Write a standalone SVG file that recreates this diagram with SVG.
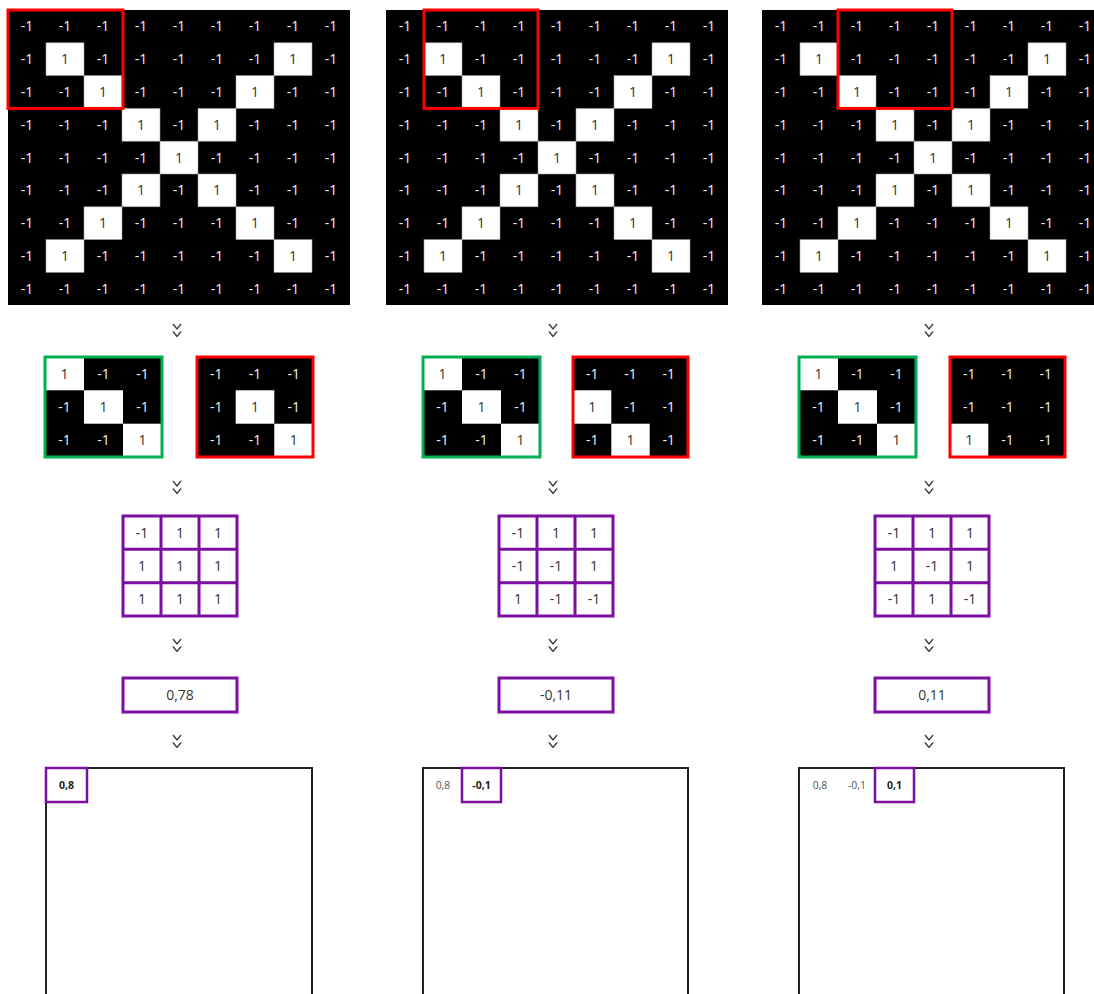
<svg xmlns="http://www.w3.org/2000/svg" xmlns:xlink="http://www.w3.org/1999/xlink" width="1094" height="994" viewBox="0 0 1094 994">
<style>
text{font-family:"Open Sans","DejaVu Sans",sans-serif;font-size:14px;text-anchor:middle}
.w{fill:#f0f0f0}
.d{fill:#333}
.cell1{fill:#fff;stroke:#999;stroke-width:0.6}
.red{fill:none;stroke:#ff0000;stroke-width:3}
.green{fill:none;stroke:#00b050;stroke-width:3}
.pur{fill:none;stroke:#7b0fa0;stroke-width:3}
.pur2{fill:none;stroke:#7b0fa0;stroke-width:2.5}
.frame{fill:none;stroke:#222;stroke-width:2}
.chev{fill:none;stroke:#3a3a4a;stroke-width:1.4}
.sm{font-size:10.5px;fill:#555}
.smb{font-size:10.5px;fill:#222;font-weight:bold}
</style>
<defs>
<g id="bigGrid">
<rect x="0" y="0" width="342" height="295" fill="#000"/>
<rect class="cell1" x="38" y="32.8" width="38" height="32.8"/>
<rect class="cell1" x="266" y="32.8" width="38" height="32.8"/>
<rect class="cell1" x="76" y="65.6" width="38" height="32.8"/>
<rect class="cell1" x="228" y="65.6" width="38" height="32.8"/>
<rect class="cell1" x="114" y="98.4" width="38" height="32.8"/>
<rect class="cell1" x="190" y="98.4" width="38" height="32.8"/>
<rect class="cell1" x="152" y="131.2" width="38" height="32.8"/>
<rect class="cell1" x="114" y="164" width="38" height="32.8"/>
<rect class="cell1" x="190" y="164" width="38" height="32.8"/>
<rect class="cell1" x="76" y="196.8" width="38" height="32.8"/>
<rect class="cell1" x="228" y="196.8" width="38" height="32.8"/>
<rect class="cell1" x="38" y="229.6" width="38" height="32.8"/>
<rect class="cell1" x="266" y="229.6" width="38" height="32.8"/>
<text class="w" x="19" y="21.4">-1</text><text class="w" x="57" y="21.4">-1</text><text class="w" x="95" y="21.4">-1</text><text class="w" x="133" y="21.4">-1</text><text class="w" x="171" y="21.4">-1</text><text class="w" x="209" y="21.4">-1</text><text class="w" x="247" y="21.4">-1</text><text class="w" x="285" y="21.4">-1</text><text class="w" x="323" y="21.4">-1</text>
<text class="w" x="19" y="54.2">-1</text><text class="d" x="57" y="54.2">1</text><text class="w" x="95" y="54.2">-1</text><text class="w" x="133" y="54.2">-1</text><text class="w" x="171" y="54.2">-1</text><text class="w" x="209" y="54.2">-1</text><text class="w" x="247" y="54.2">-1</text><text class="d" x="285" y="54.2">1</text><text class="w" x="323" y="54.2">-1</text>
<text class="w" x="19" y="87">-1</text><text class="w" x="57" y="87">-1</text><text class="d" x="95" y="87">1</text><text class="w" x="133" y="87">-1</text><text class="w" x="171" y="87">-1</text><text class="w" x="209" y="87">-1</text><text class="d" x="247" y="87">1</text><text class="w" x="285" y="87">-1</text><text class="w" x="323" y="87">-1</text>
<text class="w" x="19" y="119.8">-1</text><text class="w" x="57" y="119.8">-1</text><text class="w" x="95" y="119.8">-1</text><text class="d" x="133" y="119.8">1</text><text class="w" x="171" y="119.8">-1</text><text class="d" x="209" y="119.8">1</text><text class="w" x="247" y="119.8">-1</text><text class="w" x="285" y="119.8">-1</text><text class="w" x="323" y="119.8">-1</text>
<text class="w" x="19" y="152.6">-1</text><text class="w" x="57" y="152.6">-1</text><text class="w" x="95" y="152.6">-1</text><text class="w" x="133" y="152.6">-1</text><text class="d" x="171" y="152.6">1</text><text class="w" x="209" y="152.6">-1</text><text class="w" x="247" y="152.6">-1</text><text class="w" x="285" y="152.6">-1</text><text class="w" x="323" y="152.6">-1</text>
<text class="w" x="19" y="185.4">-1</text><text class="w" x="57" y="185.4">-1</text><text class="w" x="95" y="185.4">-1</text><text class="d" x="133" y="185.4">1</text><text class="w" x="171" y="185.4">-1</text><text class="d" x="209" y="185.4">1</text><text class="w" x="247" y="185.4">-1</text><text class="w" x="285" y="185.4">-1</text><text class="w" x="323" y="185.4">-1</text>
<text class="w" x="19" y="218.2">-1</text><text class="w" x="57" y="218.2">-1</text><text class="d" x="95" y="218.2">1</text><text class="w" x="133" y="218.2">-1</text><text class="w" x="171" y="218.2">-1</text><text class="w" x="209" y="218.2">-1</text><text class="d" x="247" y="218.2">1</text><text class="w" x="285" y="218.2">-1</text><text class="w" x="323" y="218.2">-1</text>
<text class="w" x="19" y="251">-1</text><text class="d" x="57" y="251">1</text><text class="w" x="95" y="251">-1</text><text class="w" x="133" y="251">-1</text><text class="w" x="171" y="251">-1</text><text class="w" x="209" y="251">-1</text><text class="w" x="247" y="251">-1</text><text class="d" x="285" y="251">1</text><text class="w" x="323" y="251">-1</text>
<text class="w" x="19" y="283.8">-1</text><text class="w" x="57" y="283.8">-1</text><text class="w" x="95" y="283.8">-1</text><text class="w" x="133" y="283.8">-1</text><text class="w" x="171" y="283.8">-1</text><text class="w" x="209" y="283.8">-1</text><text class="w" x="247" y="283.8">-1</text><text class="w" x="285" y="283.8">-1</text><text class="w" x="323" y="283.8">-1</text>
</g>
<g id="greenFilter">
<rect x="0" y="0" width="117" height="100" fill="#000"/>
<rect x="0" y="0" width="39" height="33.3" fill="#fff"/>
<rect x="39" y="33.3" width="39" height="33.4" fill="#fff"/>
<rect x="78" y="66.7" width="39" height="33.3" fill="#fff"/>
<text class="d" x="19.5" y="21.7">1</text><text class="w" x="58.5" y="21.7">-1</text><text class="w" x="97.5" y="21.7">-1</text>
<text class="w" x="19.5" y="55">-1</text><text class="d" x="58.5" y="55">1</text><text class="w" x="97.5" y="55">-1</text>
<text class="w" x="19.5" y="88.3">-1</text><text class="w" x="58.5" y="88.3">-1</text><text class="d" x="97.5" y="88.3">1</text>
<rect class="green" x="0" y="0" width="117" height="100"/>
</g>
<path id="chev" class="chev" d="M-4,0 L0,5 L4,0 M-4,7.5 L0,12.5 L4,7.5"/>
</defs>

<g id="connectors">
<use xlink:href="#chev" x="177" y="324"/>
<use xlink:href="#chev" x="177" y="481"/>
<use xlink:href="#chev" x="177" y="639"/>
<use xlink:href="#chev" x="177" y="735"/>
<use xlink:href="#chev" x="553" y="324"/>
<use xlink:href="#chev" x="553" y="481"/>
<use xlink:href="#chev" x="553" y="639"/>
<use xlink:href="#chev" x="553" y="735"/>
<use xlink:href="#chev" x="929" y="324"/>
<use xlink:href="#chev" x="929" y="481"/>
<use xlink:href="#chev" x="929" y="639"/>
<use xlink:href="#chev" x="929" y="735"/>
</g>

<!-- Column 1 -->
<g id="input1" transform="translate(8,10)">
<use xlink:href="#bigGrid"/>
<rect class="red" x="0" y="0" width="115" height="98.4"/>
</g>
<g id="filter1" transform="translate(45,357)"><use xlink:href="#greenFilter"/></g>
<g id="patch1" transform="translate(197,357)">
<rect x="0" y="0" width="116" height="100" fill="#000"/>
<rect x="38.7" y="33.3" width="38.6" height="33.4" fill="#fff"/>
<rect x="77.3" y="66.7" width="38.7" height="33.3" fill="#fff"/>
<text class="w" x="19.3" y="21.7">-1</text><text class="w" x="58" y="21.7">-1</text><text class="w" x="96.7" y="21.7">-1</text>
<text class="w" x="19.3" y="55">-1</text><text class="d" x="58" y="55">1</text><text class="w" x="96.7" y="55">-1</text>
<text class="w" x="19.3" y="88.3">-1</text><text class="w" x="58" y="88.3">-1</text><text class="d" x="96.7" y="88.3">1</text>
<rect class="red" x="0" y="0" width="116" height="100"/>
</g>
<g id="product1" transform="translate(123,516)">
<rect x="0" y="0" width="114" height="100" fill="#fff"/>
<path class="pur" d="M0,0 H114 V100 H0 Z M38,0 V100 M76,0 V100 M0,33.3 H114 M0,66.7 H114"/>
<text class="d" x="19" y="21.7">-1</text><text class="d" x="57" y="21.7">1</text><text class="d" x="95" y="21.7">1</text>
<text class="d" x="19" y="55">1</text><text class="d" x="57" y="55">1</text><text class="d" x="95" y="55">1</text>
<text class="d" x="19" y="88.3">1</text><text class="d" x="57" y="88.3">1</text><text class="d" x="95" y="88.3">1</text>
</g>
<g id="value1">
<rect class="pur" x="123" y="678" width="114" height="34"/>
<text class="d" x="180" y="700">0,78</text>
</g>
<g id="map1">
<rect class="frame" x="46" y="768" width="266" height="240"/>
<rect class="pur2" x="46" y="768" width="41" height="34"/>
<text class="smb" x="66.5" y="789">0,8</text>
</g>

<!-- Column 2 -->
<g id="input2" transform="translate(386,10)">
<use xlink:href="#bigGrid"/>
<rect class="red" x="38" y="0" width="114" height="98.4"/>
</g>
<g id="filter2" transform="translate(423,357)"><use xlink:href="#greenFilter"/></g>
<g id="patch2" transform="translate(573,357)">
<rect x="0" y="0" width="115" height="100" fill="#000"/>
<rect x="0" y="33.3" width="38.3" height="33.4" fill="#fff"/>
<rect x="38.3" y="66.7" width="38.4" height="33.3" fill="#fff"/>
<text class="w" x="19.2" y="21.7">-1</text><text class="w" x="57.5" y="21.7">-1</text><text class="w" x="95.8" y="21.7">-1</text>
<text class="d" x="19.2" y="55">1</text><text class="w" x="57.5" y="55">-1</text><text class="w" x="95.8" y="55">-1</text>
<text class="w" x="19.2" y="88.3">-1</text><text class="d" x="57.5" y="88.3">1</text><text class="w" x="95.8" y="88.3">-1</text>
<rect class="red" x="0" y="0" width="115" height="100"/>
</g>
<g id="product2" transform="translate(499,516)">
<rect x="0" y="0" width="114" height="100" fill="#fff"/>
<path class="pur" d="M0,0 H114 V100 H0 Z M38,0 V100 M76,0 V100 M0,33.3 H114 M0,66.7 H114"/>
<text class="d" x="19" y="21.7">-1</text><text class="d" x="57" y="21.7">1</text><text class="d" x="95" y="21.7">1</text>
<text class="d" x="19" y="55">-1</text><text class="d" x="57" y="55">-1</text><text class="d" x="95" y="55">1</text>
<text class="d" x="19" y="88.3">1</text><text class="d" x="57" y="88.3">-1</text><text class="d" x="95" y="88.3">-1</text>
</g>
<g id="value2">
<rect class="pur" x="499" y="678" width="114" height="34"/>
<text class="d" x="556" y="700">-0,11</text>
</g>
<g id="map2">
<rect class="frame" x="423" y="768" width="265" height="240"/>
<text class="sm" x="443" y="789">0,8</text>
<rect class="pur2" x="462" y="768" width="39" height="34"/>
<text class="smb" x="481.5" y="789">-0,1</text>
</g>

<!-- Column 3 -->
<g id="input3" transform="translate(762,10)">
<use xlink:href="#bigGrid"/>
<rect class="red" x="76" y="0" width="114" height="98.4"/>
</g>
<g id="filter3" transform="translate(799,357)"><use xlink:href="#greenFilter"/></g>
<g id="patch3" transform="translate(950,357)">
<rect x="0" y="0" width="115" height="100" fill="#000"/>
<rect x="0" y="66.7" width="38.3" height="33.3" fill="#fff"/>
<text class="w" x="19.2" y="21.7">-1</text><text class="w" x="57.5" y="21.7">-1</text><text class="w" x="95.8" y="21.7">-1</text>
<text class="w" x="19.2" y="55">-1</text><text class="w" x="57.5" y="55">-1</text><text class="w" x="95.8" y="55">-1</text>
<text class="d" x="19.2" y="88.3">1</text><text class="w" x="57.5" y="88.3">-1</text><text class="w" x="95.8" y="88.3">-1</text>
<rect class="red" x="0" y="0" width="115" height="100"/>
</g>
<g id="product3" transform="translate(875,516)">
<rect x="0" y="0" width="114" height="100" fill="#fff"/>
<path class="pur" d="M0,0 H114 V100 H0 Z M38,0 V100 M76,0 V100 M0,33.3 H114 M0,66.7 H114"/>
<text class="d" x="19" y="21.7">-1</text><text class="d" x="57" y="21.7">1</text><text class="d" x="95" y="21.7">1</text>
<text class="d" x="19" y="55">1</text><text class="d" x="57" y="55">-1</text><text class="d" x="95" y="55">1</text>
<text class="d" x="19" y="88.3">-1</text><text class="d" x="57" y="88.3">1</text><text class="d" x="95" y="88.3">-1</text>
</g>
<g id="value3">
<rect class="pur" x="875" y="678" width="114" height="34"/>
<text class="d" x="932" y="700">0,11</text>
</g>
<g id="map3">
<rect class="frame" x="799" y="768" width="265" height="240"/>
<text class="sm" x="820" y="789">0,8</text>
<text class="sm" x="857" y="789">-0,1</text>
<rect class="pur2" x="875" y="768" width="39" height="34"/>
<text class="smb" x="894.5" y="789">0,1</text>
</g>
</svg>
